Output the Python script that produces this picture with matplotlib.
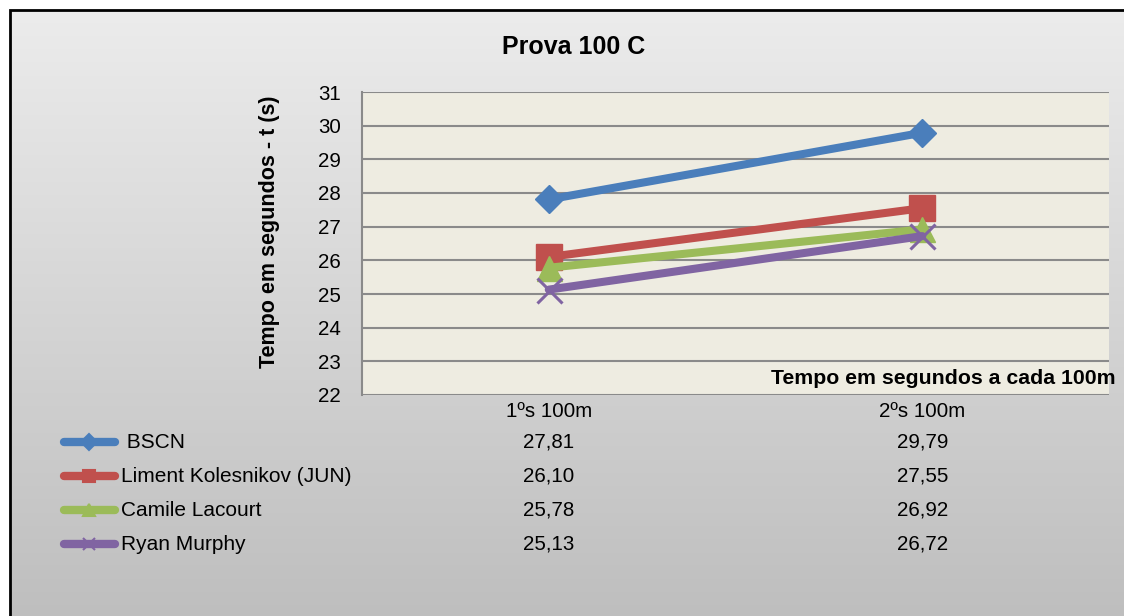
import matplotlib
matplotlib.use("Agg")
import matplotlib.pyplot as plt
import matplotlib.transforms as mtransforms
from matplotlib.lines import Line2D
from matplotlib.patches import Rectangle
import numpy as np

plt.rcParams['font.family'] = ['Liberation Sans', 'DejaVu Sans']

# data
categorias = ['1ºs 100m', '2ºs 100m']
nadadores = [' BSCN', 'Liment Kolesnikov (JUN)', 'Camile Lacourt', 'Ryan Murphy']
bscn = [27.81, 29.79]
kolesnikov = [26.10, 27.55]
lacourt = [25.78, 26.92]
murphy = [25.13, 26.72]
tabela_txt = [['27,81', '29,79'], ['26,10', '27,55'], ['25,78', '26,92'], ['25,13', '26,72']]

cores = ['#4a7ebb', '#c0504d', '#9bbb59', '#8064a2']
marcadores = ['D', 's', '^', 'x']
tamanhos = [14, 19, 18, 18]

W, H = 1124, 616
fig = plt.figure(figsize=(W / 100, H / 100), dpi=100)
fig.patch.set_facecolor('white')

def fx(px):
    return px / W

def fy(py):
    return 1 - py / H

# background gradient inside border
bg = fig.add_axes([0, 0, 1, 1], zorder=-10)
grad = np.linspace(0.925, 0.745, 256).reshape(-1, 1)
bg.imshow(np.dstack([grad, grad, grad]), aspect='auto',
          extent=[fx(10), 1.05, fy(620), fy(10)], origin='upper')
bg.set_xlim(0, 1)
bg.set_ylim(0, 1)
bg.add_patch(Rectangle((fx(9.5), fy(640)), 1.2, fy(10) - fy(640), fill=False,
                       edgecolor='black', linewidth=2))
bg.axis('off')

# plot area
ax = fig.add_axes([fx(362), fy(395), fx(1109) - fx(362), fy(92) - fy(395)])
ax.set_facecolor('#eeece1')
x = np.arange(len(categorias))
series = [bscn, kolesnikov, lacourt, murphy]
for vals, c, m, s in zip(series, cores, marcadores, tamanhos):
    kw = dict(markerfacecolor=c, markeredgecolor=c)
    if m == 'x':
        kw['markeredgewidth'] = 2.2
    ax.plot(x, vals, color=c, linewidth=5.8, marker=m, markersize=s,
            solid_capstyle='round', zorder=3, **kw)

ax.set_xlim(-0.5, 1.5)
ax.set_ylim(22, 31)
ax.set_yticks(range(22, 32))
ax.yaxis.grid(True, color='#8a8a8a', linewidth=1.5)
ax.set_axisbelow(True)
ax.set_xticks(x)
ax.set_xticklabels(categorias)
ax.tick_params(axis='y', length=0, pad=15, labelsize=14.8)
ax.tick_params(axis='x', length=0, pad=5, labelsize=14.8)
for sp in ['top', 'right', 'bottom']:
    ax.spines[sp].set_visible(False)
ax.spines['left'].set_color('#8a8a8a')
ax.spines['left'].set_linewidth(1.5)

# titles
fig.text(fx(574), fy(47), 'Prova 100 C', fontsize=18, fontweight='bold',
         ha='center', va='center')
fig.text(fx(270), fy(232), 'Tempo em segundos - t (s)', fontsize=15.5, fontweight='bold',
         rotation=90, ha='center', va='center')
fig.text(fx(1116), fy(378), 'Tempo em segundos a cada 100m', fontsize=15.3,
         fontweight='bold', ha='right', va='center')

# data table below
trans = mtransforms.blended_transform_factory(ax.transData, fig.transFigure)
linhas_y = [442, 476, 510, 544]
for i, (nome, c, m) in enumerate(zip(nadadores, cores, marcadores)):
    yy = fy(linhas_y[i])
    fig.add_artist(Line2D([fx(64), fx(115)], [yy, yy], color=c, linewidth=6,
                          solid_capstyle='round', transform=fig.transFigure))
    fig.add_artist(Line2D([fx(89)], [yy], color=c, linestyle='none', marker=m,
                          markersize=8 if m != 'x' else 9, markerfacecolor=c,
                          markeredgecolor=c, markeredgewidth=1.5,
                          transform=fig.transFigure))
    fig.text(fx(121), yy, nome, fontsize=15, ha='left', va='center')
    for j, val in enumerate(tabela_txt[i]):
        ax.text(x[j], yy, val, transform=trans, fontsize=14.8, ha='center',
                va='center', clip_on=False)

fig.savefig('out.png', dpi=100)
